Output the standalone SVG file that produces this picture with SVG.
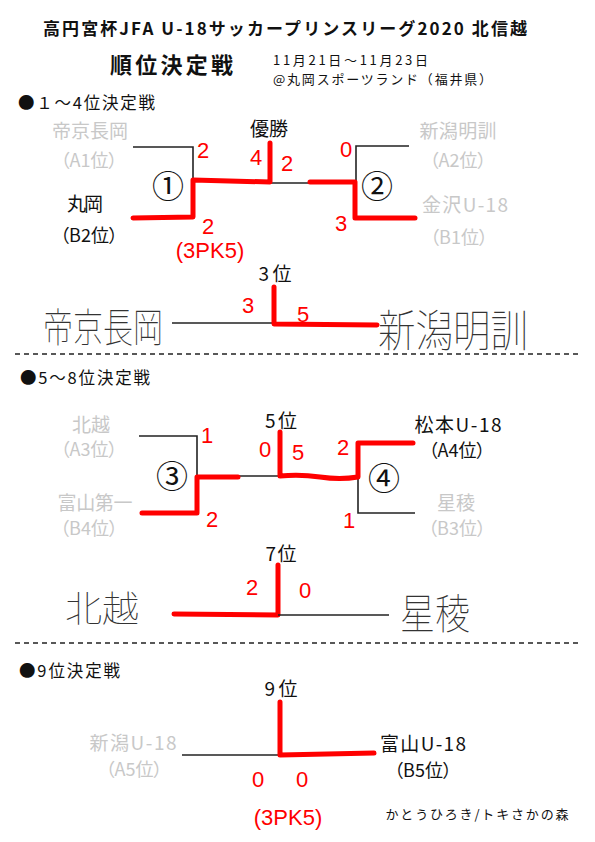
<svg xmlns="http://www.w3.org/2000/svg" width="595" height="842" viewBox="0 0 595 842">
<style>
text { font-family: "Noto Sans CJK JP", "Liberation Sans", sans-serif; }
.t { fill:#111; font-size:19px; text-anchor:middle; }
.g { fill:#c8c8c8; font-size:19px; text-anchor:middle; }
.p { font-size:18px; font-feature-settings:"palt"; }
.h { fill:#111; font-size:13px; }
.sh { fill:#111; font-size:16.5px; }
.r { fill:#ff0000; font-family:"Liberation Sans", sans-serif; font-size:22px; text-anchor:middle; }
.hw { fill:#333333; font-weight:100; }
.circ { font-size:32px; text-anchor:middle; fill:#111; }
.bl { stroke:#222; stroke-width:1.6; fill:none; }
.rd { stroke:#ff0000; stroke-width:5; fill:none; stroke-linecap:round; stroke-linejoin:round; }
.dash { stroke:#222; stroke-width:1.6; stroke-dasharray:5 4; fill:none; }
</style>
<rect width="595" height="842" fill="#ffffff"/>

<g id="header">
<text x="43" y="35" font-size="17" font-weight="bold" fill="#111" textLength="484">高円宮杯JFA U-18サッカープリンスリーグ2020 北信越</text>
<text x="110" y="73" font-size="22" font-weight="bold" fill="#111" textLength="123">順位決定戦</text>
<text class="h" x="273" y="65" textLength="155">11月21日〜11月23日</text>
<text class="h" x="273" y="84" textLength="219">@丸岡スポーツランド（福井県）</text>
</g>

<g id="connectors">
<path class="bl" d="M133 147 H193 V180"/>
<path class="bl" d="M270 183 H310"/>
<path class="bl" d="M409 146 H356 V182"/>
<path class="rd" d="M133 218 L193 217 V180 L270 182 V143"/>
<path class="rd" d="M310 182 H355 V218 H415"/>
<path class="bl" d="M172 323 H274"/>
<path class="rd" d="M274 287 V324 L377 325"/>
<path class="dash" d="M15 354 H580"/>
<path class="bl" d="M139 436 H197 V477"/>
<path class="bl" d="M238 476 H280"/>
<path class="bl" d="M358 477 V513 H415"/>
<path class="rd" d="M142 513 H197 V477 H238"/>
<path class="rd" d="M280 432 V476 Q300 474 320 477 T358 477 V443 H413"/>
<path class="rd" d="M174 614 L278 615 V565"/>
<path class="bl" d="M278 615 H389"/>
<path class="dash" d="M15 643 H580"/>
<path class="bl" d="M182 755 H280"/>
<path class="rd" d="M280 702 V755 L374 753"/>
</g>

<g id="sec1">
<text class="sh" x="18" y="109" textLength="137">●１〜4位決定戦</text>
<g id="n-teikyo"><text class="g" x="90" y="138" textLength="76">帝京長岡</text><text class="g p" x="89" y="167">（A1位）</text></g>
<g id="n-maruoka"><text class="t" x="85" y="211" textLength="36">丸岡</text><text class="t p" x="89" y="242">（B2位）</text></g>
<g id="n-m1"><text class="circ" x="168" y="198">①</text></g>
<g id="n-m2"><text class="circ" x="377" y="198">②</text></g>
<g id="n-win"><text class="t" x="269" y="136" textLength="38">優勝</text></g>
<g id="n-meikun"><text class="g" x="458" y="138" textLength="77">新潟明訓</text><text class="g p" x="458" y="167">（A2位）</text></g>
<g id="n-kanazawa"><text class="g" x="465" y="212" textLength="86">金沢U-18</text><text class="g p" x="459" y="244">（B1位）</text></g>
<g id="s1-scores">
<text class="r" x="203" y="158">2</text>
<text class="r" x="256" y="165">4</text>
<text class="r" x="287" y="171" font-size="24">2</text>
<text class="r" x="346" y="157" font-size="20">0</text>
<text class="r" x="341" y="231" font-size="20">3</text>
<text class="r" x="208" y="234" font-size="30">2</text>
<text class="r" x="210" y="258">(3PK5)</text>
</g>
</g>

<g id="third">
<g id="n-3rd"><text class="t" x="275" y="281" textLength="33">3位</text></g>
<g id="n-hw-teikyo"><text class="hw" x="43" y="342" font-size="40" textLength="120" lengthAdjust="spacingAndGlyphs">帝京長岡</text></g>
<g id="n-hw-meikun"><text class="hw" x="378" y="347" font-size="44" textLength="150" lengthAdjust="spacingAndGlyphs">新潟明訓</text></g>
<text class="r" x="248" y="313" font-size="20">3</text>
<text class="r" x="303" y="322">5</text>
</g>

<g id="sec2">
<text class="sh" x="20" y="384" textLength="130">●5〜8位決定戦</text>
<g id="n-hokuetsu"><text class="g" x="91" y="432" textLength="38">北越</text><text class="g p" x="89" y="456">（A3位）</text></g>
<g id="n-toyamadaiichi"><text class="g" x="95" y="510" textLength="75">富山第一</text><text class="g p" x="89" y="535">（B4位）</text></g>
<g id="n-m3"><text class="circ" x="172" y="488">③</text></g>
<g id="n-m4"><text class="circ" x="384" y="490">④</text></g>
<g id="n-5th"><text class="t" x="281" y="428" textLength="32">5位</text></g>
<g id="n-matsumoto"><text class="t" x="458" y="432" textLength="87">松本U-18</text><text class="t p" x="457" y="457">（A4位）</text></g>
<g id="n-seiryo"><text class="g" x="456" y="510" textLength="38">星稜</text><text class="g p" x="457" y="535">（B3位）</text></g>
<g id="s2-scores">
<text class="r" x="207" y="443" font-size="16">1</text>
<text class="r" x="265" y="457">0</text>
<text class="r" x="298" y="460">5</text>
<text class="r" x="343" y="455" font-size="26">2</text>
<text class="r" x="212" y="527" font-size="24">2</text>
<text class="r" x="349" y="528" font-size="26">1</text>
</g>
</g>

<g id="seventh">
<g id="n-7th"><text class="t" x="281" y="561" textLength="31">7位</text></g>
<g id="n-hw-hokuetsu"><text class="hw" x="65" y="622" font-size="36" textLength="74" lengthAdjust="spacingAndGlyphs">北越</text></g>
<g id="n-hw-seiryo"><text class="hw" x="400" y="629" font-size="42" textLength="70" lengthAdjust="spacingAndGlyphs">星稜</text></g>
<text class="r" x="252" y="595" font-size="24">2</text>
<text class="r" x="305" y="598" font-size="26">0</text>
</g>

<g id="sec3">
<text class="sh" x="19" y="677" textLength="101">●9位決定戦</text>
<g id="n-9th"><text class="t" x="281" y="696" textLength="33">9位</text></g>
<g id="n-niigata"><text class="g" x="133" y="750" textLength="87">新潟U-18</text><text class="g p" x="134" y="776">（A5位）</text></g>
<g id="n-toyama"><text class="t" x="423" y="751" textLength="86">富山U-18</text><text class="t p" x="423" y="777">（B5位）</text></g>
<text class="r" x="258" y="787" font-size="20">0</text>
<text class="r" x="302" y="787" font-size="20">0</text>
<text class="r" x="288" y="825" font-size="30">(3PK5)</text>
<text x="477" y="819" font-size="13" fill="#111" text-anchor="middle" textLength="183">かとうひろき/トキさかの森</text>
</g>
</svg>
